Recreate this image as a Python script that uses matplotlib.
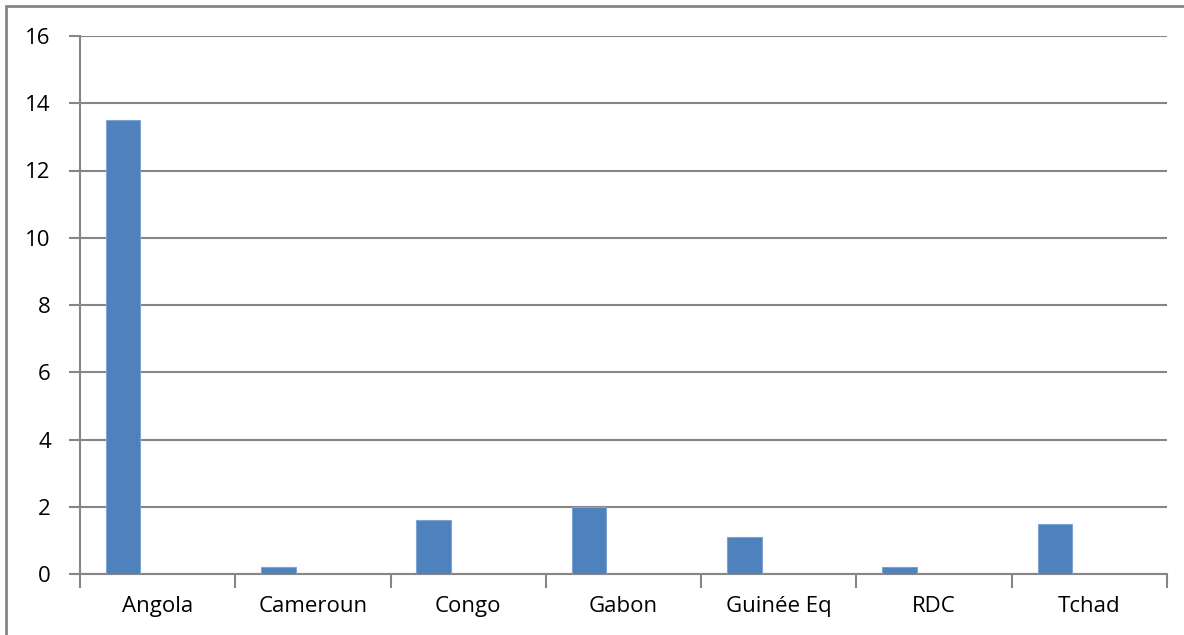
import numpy as np
import matplotlib.pyplot as plt
from matplotlib.patches import Rectangle

plt.rcParams['font.family'] = ['Open Sans', 'DejaVu Sans']

pays = ["Angola", "Cameroun", "Congo", "Gabon", "Guinée Eq", "RDC", "Tchad"]
valeurs = [13.5, 0.2, 1.6, 2.0, 1.1, 0.2, 1.5]
y_ticks = [0, 2, 4, 6, 8, 10, 12, 14, 16]

gris = "#868686"
bleu = "#4F81BD"

fig = plt.figure(figsize=(11.84, 6.35), dpi=100)
ax = fig.add_axes([80/1184, 1 - 574/635, (1167-80)/1184, (574-36)/635])

# cadre du graphique (coupé à droite et en bas)
fig.patches.append(Rectangle((6/1184, -0.1), 1.2, 1 - 6/635 + 0.1, transform=fig.transFigure,
                             fill=False, edgecolor=gris, linewidth=2))

x = np.arange(len(pays))
# barres décalées à gauche comme dans un graphique groupé à 3 séries (1 seule remplie)
larg = 1 / 4.5
ax.bar(x - 0.5 + 0.75 * larg + larg / 2, valeurs, width=larg, color=bleu,
       edgecolor="#7fa4d3", linewidth=0.8, zorder=3)

ax.set_xlim(-0.5, len(pays) - 0.5)
ax.set_ylim(0, 16)
ax.set_yticks(y_ticks)
ax.set_yticklabels([str(t) for t in y_ticks])
ax.yaxis.grid(True, color=gris, linewidth=1.5, zorder=0)
ax.set_axisbelow(True)

# ticks aux frontières des catégories, étiquettes au centre
ax.set_xticks(np.arange(len(pays) + 1) - 0.5)
ax.set_xticklabels([])
ax.set_xticks(x, minor=True)
ax.set_xticklabels(pays, minor=True)
ax.tick_params(axis='x', which='major', length=10, width=1.5, color=gris)
ax.tick_params(axis='x', which='minor', length=0, pad=16, labelsize=16)
ax.tick_params(axis='y', length=8, width=1.5, color=gris, pad=13, labelsize=16)

for s in ["top", "right"]:
    ax.spines[s].set_visible(False)
for s in ["left", "bottom"]:
    ax.spines[s].set_color(gris)
    ax.spines[s].set_linewidth(1.5)

fig.savefig("out.png", dpi=100)
